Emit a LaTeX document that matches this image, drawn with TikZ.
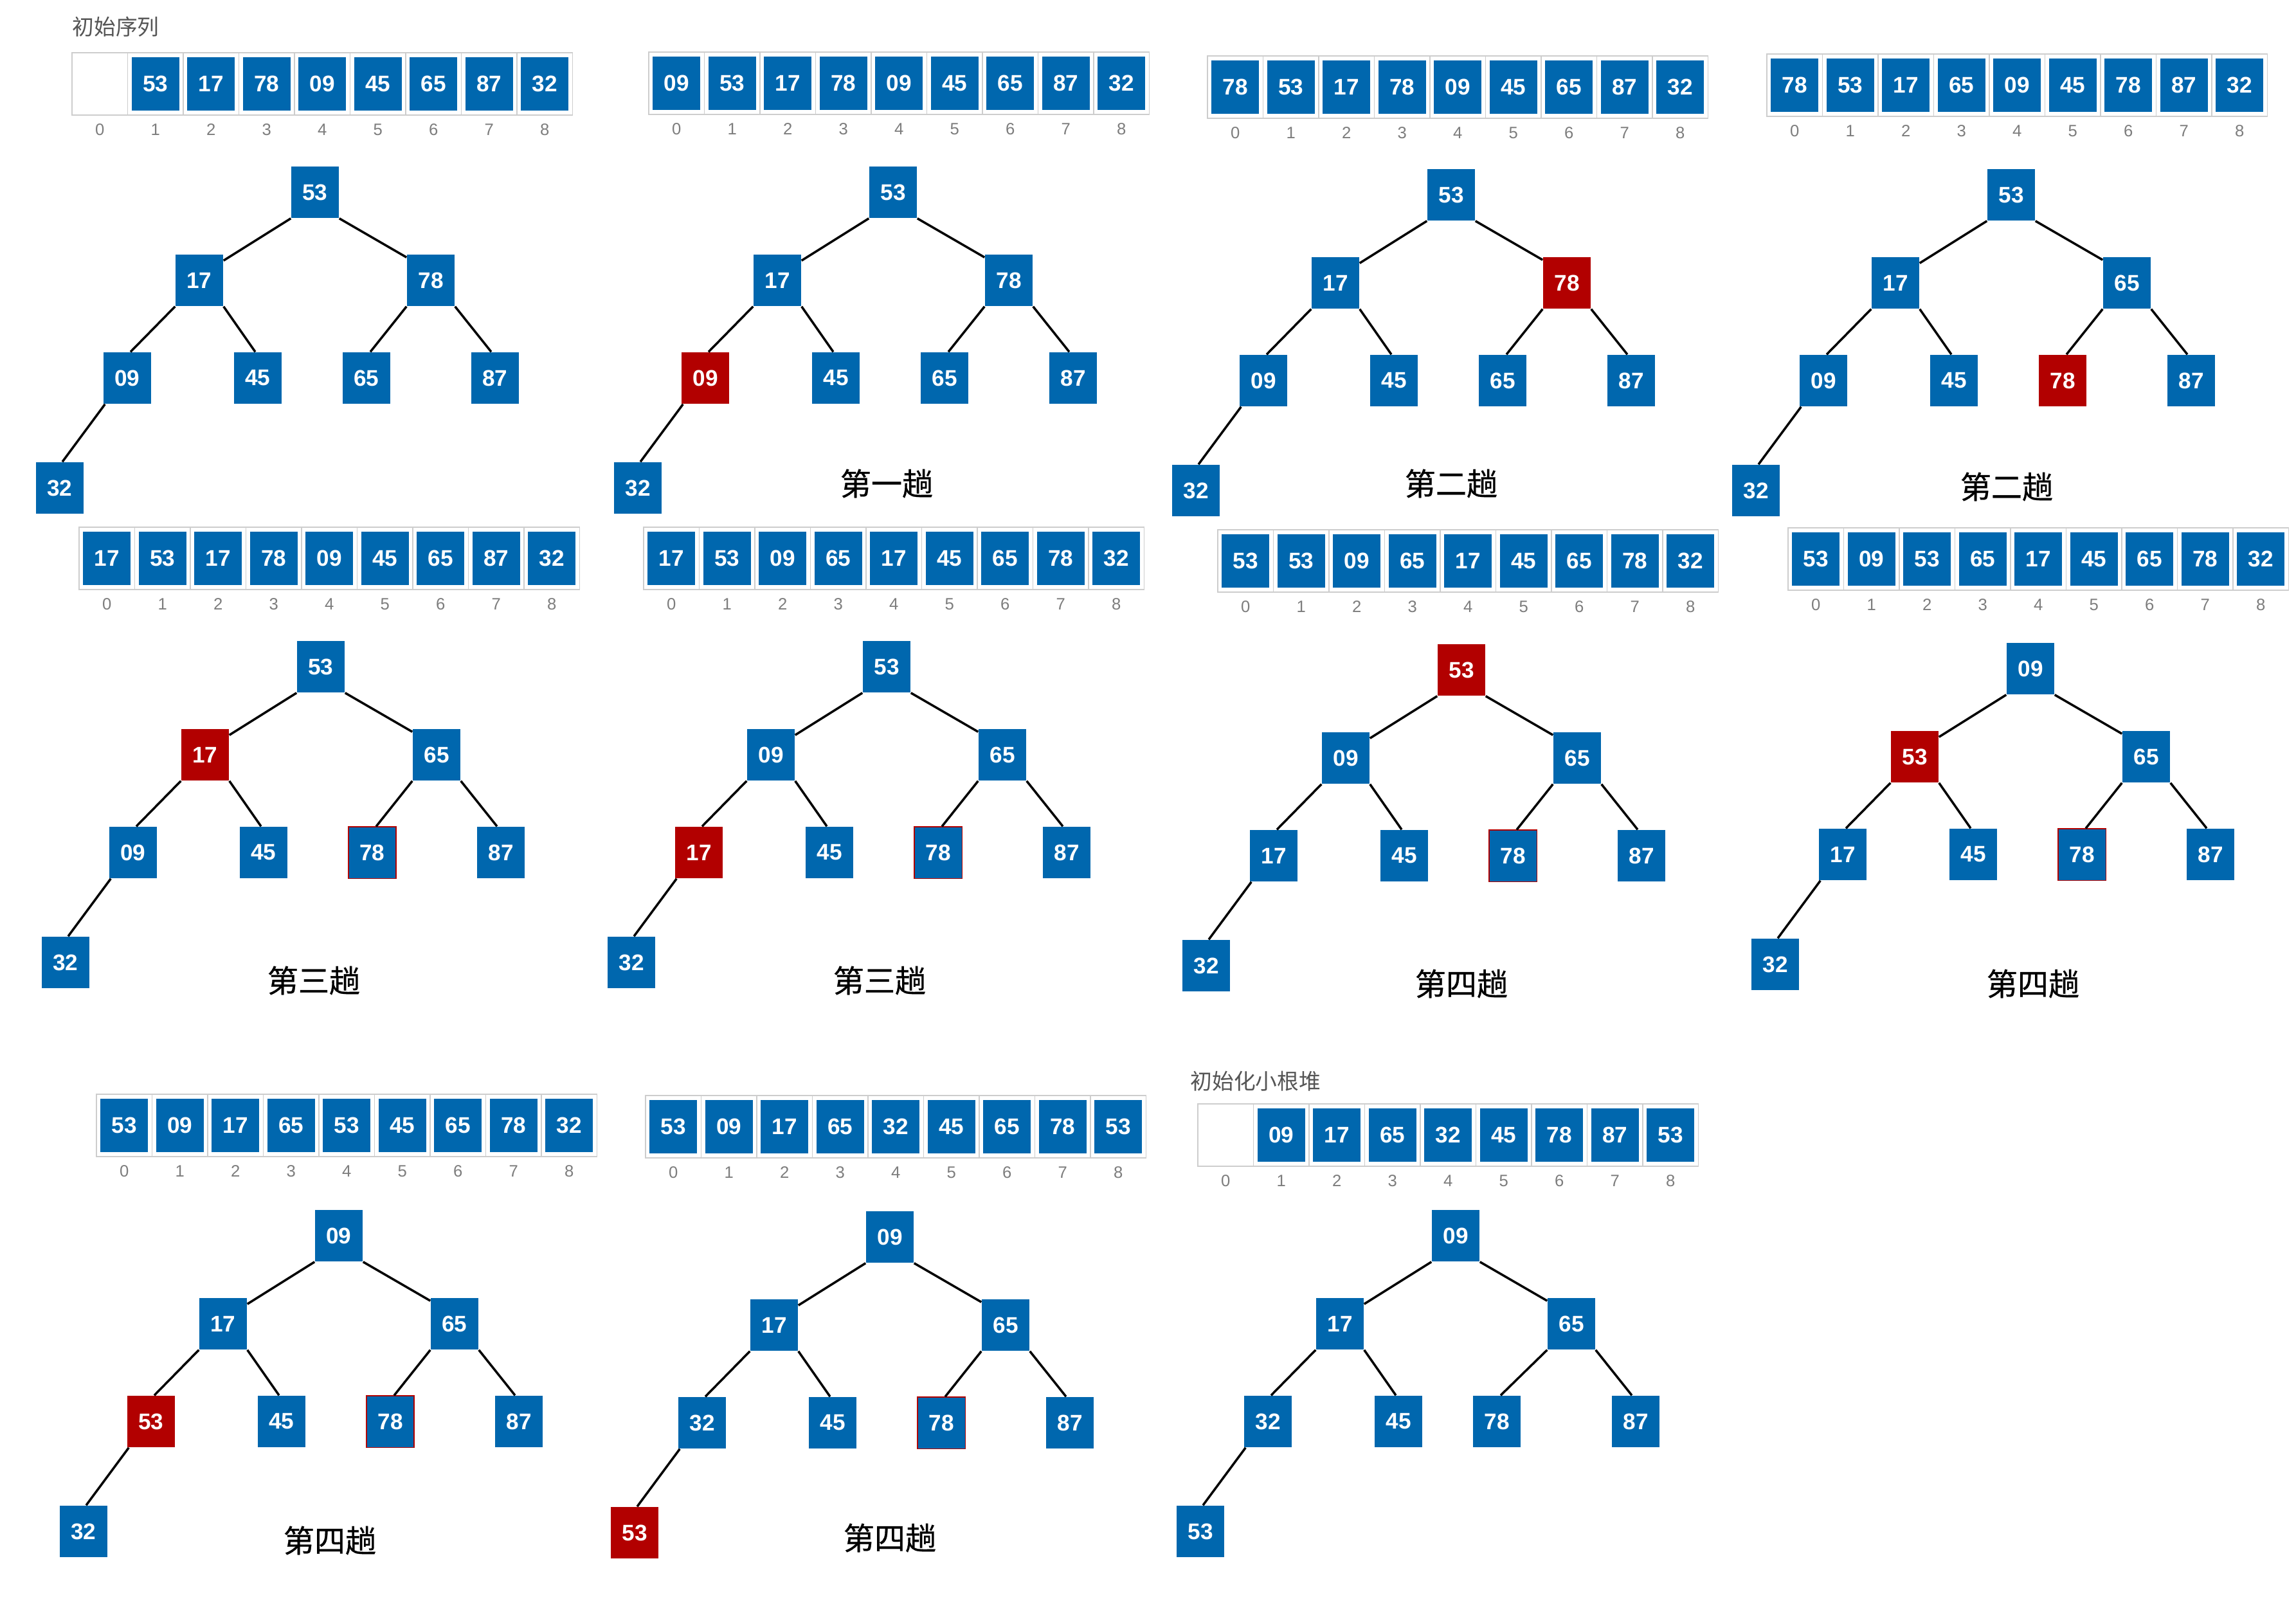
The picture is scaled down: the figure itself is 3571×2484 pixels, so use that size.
\documentclass[tikz,border=0pt]{standalone}
\usepackage{fontspec}
\setmainfont{Liberation Sans}
\newfontfamily\cjk{Noto Sans CJK SC}
\newfontfamily\cjkcap[FakeBold=0.6]{Noto Sans CJK SC}
\usetikzlibrary{calc}
\definecolor{hblue}{RGB}{0,103,174}
\definecolor{hred}{RGB}{178,0,0}
\definecolor{cellgray}{RGB}{205,205,205}
\definecolor{idxgray}{RGB}{125,125,125}
\definecolor{ttlgray}{RGB}{85,85,85}
\def\hsDash{-}
\tikzset{
  hsn/.style={rectangle, fill=hblue, minimum width=0.74cm, minimum height=0.80cm, inner sep=0pt, text=white, font=\bfseries\fontsize{10}{12}\selectfont},
  hsr/.style={hsn, fill=hred},
  hso/.style={hsn, draw=hred, line width=0.3pt},
  acell/.style={rectangle, draw=cellgray, line width=0.5pt, fill=white, minimum width=0.865cm, minimum height=0.97cm, inner sep=0pt},
  ablue/.style={rectangle, fill=hblue, minimum width=0.74cm, minimum height=0.82cm, inner sep=0pt, text=white, font=\bfseries\fontsize{10}{12}\selectfont},
  idxlabel/.style={inner sep=0pt, text=idxgray, font=\fontsize{7.3}{9}\selectfont},
  capnode/.style={inner sep=0pt, font=\cjkcap\fontsize{13.7}{16}\selectfont},
  ttlnode/.style={inner sep=0pt, anchor=west, text=ttlgray, font=\cjk\fontsize{9.6}{11}\selectfont},
  edgeline/.style={draw=black, line width=1pt}
}
\newcommand\hsArray[4]{%
  \foreach \v [count=\i from 0] in {#4} {
    \node[acell] (#1c\i) at ({#2+43.25+86.5*\i},{#3+48.5}) {};
    \edef\tmpv{\v}
    \ifx\tmpv\hsDash\else
      \node[ablue] (#1v\i) at (#1c\i) {\v};
    \fi
    \node[idxlabel] (#1i\i) at ({#2+43.25+86.5*\i},{#3+120}) {\i};
  }
}
\newcommand\hsTree[5]{%
  \foreach \v/\s [count=\k] in {#5} {
    \pgfmathsetmacro\dx{{0,-180,180,-292,-89,#4,280,-397}[\k-1]}
    \pgfmathsetmacro\dy{{0,137,137,289,289,289,289,460}[\k-1]}
    \begingroup
    \edef\hsdo{\noexpand\node[\s] (#1n\k) at ({#2+\dx},{#3+\dy}) {\v};}
    \hsdo
    \endgroup
  }
  \draw[edgeline] (#1n1.south west) -- ($(#1n2.north east)+(0,10)$);
  \draw[edgeline] (#1n1.south east) -- ($(#1n3.north west)+(0,5)$);
  \draw[edgeline] (#1n2.south west) -- ($(#1n4.north)+(5,0)$);
  \draw[edgeline] (#1n2.south east) -- ($(#1n5.north)+(-4,0)$);
  \draw[edgeline] (#1n3.south west) -- ($(#1n6.north)+(6,0)$);
  \draw[edgeline] (#1n3.south east) -- ($(#1n7.north)+(-6,0)$);
  \draw[edgeline] ($(#1n4.south west)+(3,0)$) -- ($(#1n8.north)+(4,0)$);
}
\begin{document}
\begin{tikzpicture}[x=0.01cm,y=-0.01cm]
\useasboundingbox[fill=white] (0,0) rectangle (3571,2484);
% panel 1
\node[ttlnode] (t1) at (112,42) {初始序列};
\hsArray{pa}{112}{82}{-,53,17,78,09,45,65,87,32}
\hsTree{pa}{490}{299}{80}{53/hsn,17/hsn,78/hsn,09/hsn,45/hsn,65/hsn,87/hsn,32/hsn}
% panel 2
\hsArray{pb}{1009}{81}{09,53,17,78,09,45,65,87,32}
\hsTree{pb}{1389}{299}{80}{53/hsn,17/hsn,78/hsn,09/hsr,45/hsn,65/hsn,87/hsn,32/hsn}
\node[capnode] (c2) at (1379,752) {第一趟};
% panel 3
\hsArray{pc}{1878}{87}{78,53,17,78,09,45,65,87,32}
\hsTree{pc}{2257}{303}{80}{53/hsn,17/hsn,78/hsr,09/hsn,45/hsn,65/hsn,87/hsn,32/hsn}
\node[capnode] (c3) at (2257,752) {第二趟};
% panel 4
\hsArray{pd}{2748}{84}{78,53,17,65,09,45,78,87,32}
\hsTree{pd}{3128}{303}{80}{53/hsn,17/hsn,65/hsn,09/hsn,45/hsn,78/hsr,87/hsn,32/hsn}
\node[capnode] (c4) at (3121,757) {第二趟};
% panel 5
\hsArray{pe}{123}{820}{17,53,17,78,09,45,65,87,32}
\hsTree{pe}{499}{1037}{80}{53/hsn,17/hsr,65/hsn,09/hsn,45/hsn,78/hso,87/hsn,32/hsn}
\node[capnode] (c5) at (488,1525) {第三趟};
% panel 6
\hsArray{pf}{1001}{820}{17,53,09,65,17,45,65,78,32}
\hsTree{pf}{1379}{1037}{80}{53/hsn,09/hsn,65/hsn,17/hsr,45/hsn,78/hso,87/hsn,32/hsn}
\node[capnode] (c6) at (1368,1525) {第三趟};
% panel 7
\hsArray{pg}{1894}{824}{53,53,09,65,17,45,65,78,32}
\hsTree{pg}{2273}{1042}{80}{53/hsr,09/hsn,65/hsn,17/hsn,45/hsn,78/hso,87/hsn,32/hsn}
\node[capnode] (c7) at (2273,1530) {第四趟};
% panel 8
\hsArray{ph}{2781}{821}{53,09,53,65,17,45,65,78,32}
\hsTree{ph}{3158}{1040}{80}{09/hsn,53/hsr,65/hsn,17/hsn,45/hsn,78/hso,87/hsn,32/hsn}
\node[capnode] (c8) at (3162,1530) {第四趟};
% panel 9
\hsArray{pi}{150}{1702}{53,09,17,65,53,45,65,78,32}
\hsTree{pi}{527}{1922}{80}{09/hsn,17/hsn,65/hsn,53/hsr,45/hsn,78/hso,87/hsn,32/hsn}
\node[capnode] (c9) at (513,2396) {第四趟};
% panel 10
\hsArray{pj}{1004}{1704}{53,09,17,65,32,45,65,78,53}
\hsTree{pj}{1384}{1924}{80}{09/hsn,17/hsn,65/hsn,32/hsn,45/hsn,78/hso,87/hsn,53/hsr}
\node[capnode] (c10) at (1384,2392) {第四趟};
% panel 11
\node[ttlnode] (t11) at (1851,1682) {初始化小根堆};
\hsArray{pk}{1863}{1717}{-,09,17,65,32,45,78,87,53}
\hsTree{pk}{2264}{1922}{64}{09/hsn,17/hsn,65/hsn,32/hsn,45/hsn,78/hsn,87/hsn,53/hsn}
\end{tikzpicture}
\end{document}
